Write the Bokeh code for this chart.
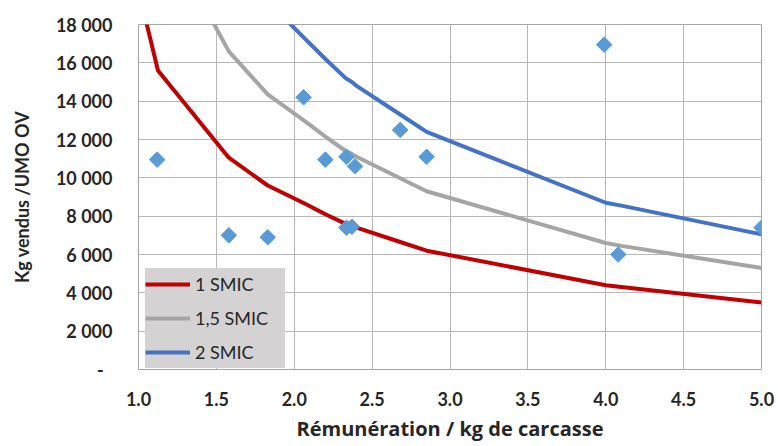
from bokeh.plotting import figure
from bokeh.models import (FixedTicker, CustomJSTickFormatter,
                          NumeralTickFormatter, Legend, LegendItem, Range1d)
from bokeh.embed import file_html
from bokeh.resources import INLINE
import numpy as np

# --- data ---
curve_x = [1.0, 1.125, 1.58, 1.83, 2.07, 2.2, 2.33, 2.37, 2.4, 2.7, 2.85, 4.0, 4.1, 5.0]
smic_1 = [19800, 15600, 11050, 9600, 8650, 8100, 7600, 7500, 7400, 6600, 6200, 4400, 4300, 3500]
smic_15 = [29700, 23400, 16600, 14350, 12950, 12150, 11400, 11250, 11100, 9900, 9300, 6600, 6450, 5300]
smic_2 = [39600, 31200, 22100, 19200, 17250, 16200, 15200, 15000, 14800, 13200, 12400, 8700, 8550, 7050]

pts_x = [1.12, 1.58, 1.83, 2.06, 2.2, 2.335, 2.39, 2.335, 2.37, 2.68, 2.85, 3.99, 4.08, 5.0]
pts_y = [10950, 7000, 6900, 14200, 10950, 11100, 10600, 7400, 7450, 12500, 11100, 16950, 6000, 7400]

x_ticks = [1.0, 1.5, 2.0, 2.5, 3.0, 3.5, 4.0, 4.5, 5.0]
y_ticks = [0, 2000, 4000, 6000, 8000, 10000, 12000, 14000, 16000, 18000]

series_names = ["1 SMIC", "1,5 SMIC", "2 SMIC"]
series_colors = ["#c00000", "#a5a5a5", "#4472c4"]

FONT = "Lato"

p = figure(width=778, height=446, output_backend="svg", toolbar_location=None,
           x_range=Range1d(1.0, 5.0), y_range=Range1d(0, 18000),
           min_border_left=138, min_border_right=17, min_border_top=24,
           min_border_bottom=77)

p.outline_line_color = "#a6a6a6"
p.outline_line_width = 1
p.background_fill_color = "white"
p.border_fill_color = "white"

for g in (p.xgrid, p.ygrid):
    g.grid_line_color = "#b8b8b8"
    g.grid_line_width = 1

renderers = []
for ys, c in zip([smic_1, smic_15, smic_2], series_colors):
    r = p.line(curve_x, ys, line_color=c, line_width=4, line_join="round")
    renderers.append(r)

p.scatter(pts_x, pts_y, marker="square", size=11, angle=np.pi / 4,
          fill_color="#5b9bd5", line_color="#5b9bd5")

# axes
p.xaxis.ticker = FixedTicker(ticks=x_ticks)
p.yaxis.ticker = FixedTicker(ticks=y_ticks)
p.xaxis.formatter = NumeralTickFormatter(format="0.0")
p.yaxis.formatter = CustomJSTickFormatter(code="""
    if (tick == 0) { return "-\u00a0\u00a0"; }
    const s = Math.round(tick).toString();
    return s.replace(/\\B(?=(\\d{3})+(?!\\d))/g, " ");
""")
for ax in (p.xaxis[0], p.yaxis[0]):
    ax.axis_line_color = None
    ax.major_tick_line_color = None
    ax.minor_tick_line_color = None
    ax.major_tick_out = 0
    ax.major_tick_in = 0
    ax.major_label_text_font = FONT
    ax.major_label_text_font_style = "bold"
    ax.major_label_text_font_size = "18px"
    ax.major_label_text_color = "#262626"
    ax.axis_label_text_font_style = "bold"
    ax.axis_label_text_color = "#262626"

p.yaxis.major_label_standoff = 26
p.yaxis.axis_label = "Kg vendus /UMO OV"
p.yaxis.axis_label_text_font = FONT
p.yaxis.axis_label_text_font_size = "18px"
p.yaxis.axis_label_standoff = 20
p.xaxis.major_label_standoff = 22
p.xaxis.axis_label = "Rémunération / kg de carcasse"
p.xaxis.axis_label_text_font = "Open Sans"
p.xaxis.axis_label_text_font_size = "20px"
p.xaxis.axis_label_standoff = 6

legend = Legend(items=[LegendItem(label=n, renderers=[r]) for n, r in zip(series_names, renderers)],
                location=(7, 1), orientation="vertical")
legend.background_fill_color = "#d4d2d2"
legend.background_fill_alpha = 1.0
legend.border_line_color = None
legend.label_text_font = FONT
legend.label_text_font_size = "18px"
legend.label_text_color = "#262626"
legend.glyph_width = 45
legend.glyph_height = 32
legend.label_height = 32
legend.label_width = 90
legend.label_standoff = 5
legend.padding = 0
legend.spacing = 2
legend.margin = 0
p.add_layout(legend, "center")

open("out.html", "w").write(file_html(p, INLINE))
